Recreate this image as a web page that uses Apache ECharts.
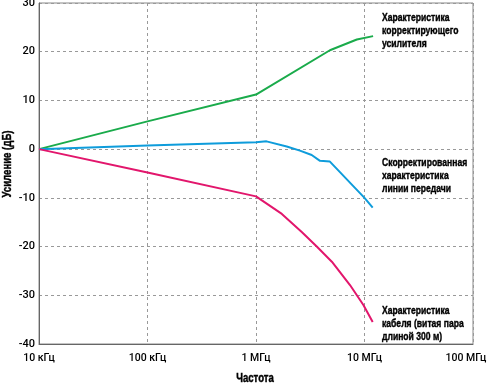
<!DOCTYPE html>
<html><head><meta charset="utf-8">
<script src="https://cdn.jsdelivr.net/npm/echarts@6/dist/echarts.min.js"></script>
<style>html,body{margin:0;padding:0;background:#fff}#c{width:488px;height:385px}</style>
</head><body><div id="c"></div>
<script>
var FONT = "'Liberation Sans',Arial,sans-serif";
var AXFONT = "Roboto,'Liberation Sans',sans-serif";
var xTicks = {10000:'10 кГц',100000:'100 кГц',1000000:'1 МГц',10000000:'10 МГц',100000000:'100 МГц'};
var amplifier = [[1e4,0],[1e5,5.7],[1e6,11.2],[4.8e6,20.3],[8.5e6,22.5],[1.2e7,23.2]];
var corrected = [[1e4,0],[1e5,0.75],[1e6,1.4],[1.25e6,1.6],[1.92e6,0.55],[2.54e6,-0.3],[3.26e6,-1.2],[3.89e6,-2.4],[4.8e6,-2.55],[1e7,-10],[1.19e7,-12]];
var cable = [[1e4,0],[1e5,-4.8],[1e6,-9.7],[1.73e6,-13.3],[2.64e6,-17],[3.63e6,-20],[5.0e6,-23.1],[7.35e6,-27.9],[9.77e6,-32],[1.19e7,-35.5]];
var labels = [
  {text:'Характеристика\nкорректирующего\nусилителя', y:11},
  {text:'Скорректированная\nхарактеристика\nлинии передачи', y:156},
  {text:'Характеристика\nкабеля (витая пара\nдлиной 300 м)', y:304}
];
var chart = echarts.init(document.getElementById('c'));
var lbl = {fontFamily:AXFONT, fontWeight:500, fontSize:11, color:'#000'};
chart.setOption({
  animation:false,
  grid:{left:39, top:3, width:434, height:341, show:true, borderColor:'#888', borderWidth:1, outerBoundsMode:'none', containLabel:false},
  xAxis:{type:'log', logBase:10, min:1e4, max:1e8,
    axisLine:{show:true, onZero:false, lineStyle:{color:'#666'}}, axisTick:{show:false},
    axisLabel:Object.assign({margin:9, formatter:function(v){
        var t = xTicks[Math.round(v)]||'';
        return Math.round(v) === 100000000 ? '{m|' + t + '}' : t;},
      rich:{m:{fontFamily:AXFONT, fontWeight:500, fontSize:10.5, color:'#000', padding:[0,14,0,0]}}}, lbl, {fontSize:10.5}),
    splitLine:{show:true, lineStyle:{color:'#999', type:[3,3]}}, minorTick:{show:false}},
  yAxis:{type:'value', min:-40, max:30, interval:10,
    axisLine:{show:true, onZero:false, lineStyle:{color:'#666'}}, axisTick:{show:false},
    axisLabel:Object.assign({margin:4}, lbl),
    splitLine:{show:true, lineStyle:{color:'#999', type:[3,3]}}},
  series:[
    {type:'line', data:amplifier, symbol:'none', lineStyle:{color:'#1aab4b', width:2}},
    {type:'line', data:corrected, symbol:'none', lineStyle:{color:'#0e9cdb', width:2}},
    {type:'line', data:cable, symbol:'none', lineStyle:{color:'#e2166c', width:2}}
  ],
  graphic: labels.map(function(l){return {type:'text', x:382, y:l.y, scaleX:0.78,
    style:{text:l.text, font:'bold 11px '+FONT, fill:'#000', stroke:'#000', lineWidth:0.4, lineHeight:13}};}).concat([
    {type:'text', x:255, y:379, scaleX:0.8, style:{text:'Частота', font:'bold 12px '+FONT, fill:'#000', stroke:'#000', lineWidth:0.4, textAlign:'center', textVerticalAlign:'middle'}},
    {type:'text', x:8, y:164, rotation:Math.PI/2, scaleX:0.8, style:{text:'Усиление (дБ)', font:'bold 12px '+FONT, fill:'#000', stroke:'#000', lineWidth:0.4, textAlign:'center', textVerticalAlign:'middle'}}
  ])
});
</script></body></html>
